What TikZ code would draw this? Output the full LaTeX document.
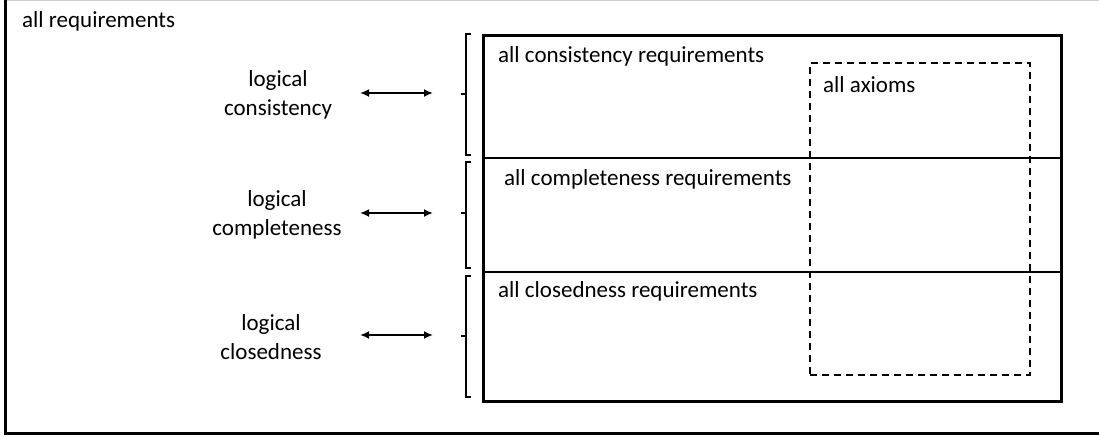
\documentclass[tikz,border=0pt]{standalone}
\usepackage{fontspec}
\setmainfont{Carlito}
\usetikzlibrary{arrows.meta}
\tikzstyle{txt} = [inner sep=0pt, anchor=base west, font=\fontsize{23}{29}\selectfont]
\tikzstyle{side} = [inner sep=0pt, align=center, font=\fontsize{23}{29}\selectfont]
\tikzstyle{frame} = [draw, line width=3pt]
\tikzstyle{block} = [draw, line width=2.6pt, rectangle, inner sep=0pt, anchor=north west]
\tikzstyle{axioms} = [draw, line width=2.4pt, dash pattern=on 7pt off 5pt, rectangle, inner sep=0pt, anchor=north west]
\tikzstyle{brack} = [line width=1.6pt]
\tikzstyle{dbl} = [<->, line width=1.8pt]

\begin{document}
\begin{tikzpicture}[x=1pt, y=-1pt, >={Latex[length=9pt,width=8pt]}]
 \useasboundingbox (0,0) rectangle (1099,437);
 % frame
    \draw [line width=1.2pt, black!20] (5,0.6) -- (1099,0.6);
    \draw [frame] (5,0) -- (5,433) -- (1099,433);
 % boxes
    \node [block, minimum width=578pt, minimum height=366pt, name=reqbox] at (482,34) {};
    \node [axioms, minimum width=220pt, minimum height=312pt, name=axbox] at (809,62) {};
    \draw [line width=2pt] (482,158) -- (1060,158);
    \draw [line width=2pt] (482,272) -- (1060,272);
 % nodes
    \node [txt, name=allreq] at (22,27) {all requirements};
    \node [txt, name=consreq] at (498,62) {all consistency requirements};
    \node [txt, name=compreq] at (504,185) {all completeness requirements};
    \node [txt, name=closreq] at (498,297) {all closedness requirements};
    \node [txt, name=axtext] at (823,92) {all axioms};
    \node [side, name=logcons] at (278,95) {logical\\consistency};
    \node [side, name=logcomp] at (277,215) {logical\\completeness};
    \node [side, name=logclos] at (271,337) {logical\\closedness};
 % brackets
    \draw [brack] (471,34) -- (466,34) -- (466,155) -- (471,155) (466,94) -- (461,94);
    \draw [brack] (471,162) -- (466,162) -- (466,268) -- (471,268) (466,213) -- (461,213);
    \draw [brack] (471,276) -- (466,276) -- (466,397) -- (471,397) (466,336) -- (461,336);
 % edges
    \coordinate (cons1) at (360,93);
    \coordinate (cons2) at (433,93);
    \coordinate (comp1) at (360,213);
    \coordinate (comp2) at (433,213);
    \coordinate (clos1) at (360,335);
    \coordinate (clos2) at (433,335);
    \draw [dbl] (cons1) -- (cons2);
    \draw [dbl] (comp1) -- (comp2);
    \draw [dbl] (clos1) -- (clos2);
\end{tikzpicture}
\end{document}
